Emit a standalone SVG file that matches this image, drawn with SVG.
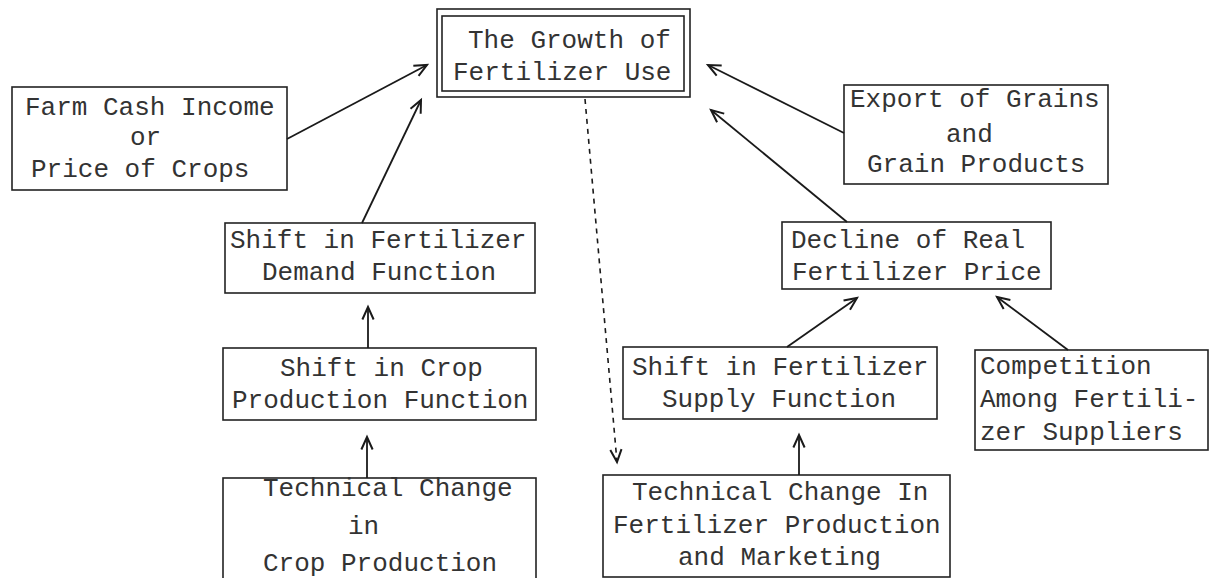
<svg xmlns="http://www.w3.org/2000/svg" width="1211" height="578" viewBox="0 0 1211 578">
<style>
.bx{fill:none;stroke:#222;stroke-width:1.6}
.t{font-family:"Liberation Mono","DejaVu Sans Mono",monospace;font-size:26px;fill:#333}
.c{fill:none;stroke:#1a1a1a;stroke-width:1.8}
.d{fill:none;stroke:#1a1a1a;stroke-width:1.6;stroke-dasharray:5,5}
</style>
<defs>
<marker id="ah" markerUnits="userSpaceOnUse" markerWidth="20" markerHeight="20" viewBox="-12 -8 14 16" refX="0" refY="0" orient="auto">
<path d="M-10,-4.5 L0,0 L-10,4.5" fill="none" stroke="#1a1a1a" stroke-width="1.6"/>
</marker>
</defs>
<rect width="1211" height="578" fill="#fff"/>
<g id="growth">
<rect class="bx" x="437" y="9" width="253" height="88"/>
<rect class="bx" x="442" y="16" width="242" height="75"/>
<text class="t" x="468" y="48">The Growth of</text>
<text class="t" x="453" y="80">Fertilizer Use</text>
</g>
<g id="farm">
<rect class="bx" x="12" y="87" width="275" height="103"/>
<text class="t" x="25" y="115">Farm Cash Income</text>
<text class="t" x="130" y="145">or</text>
<text class="t" x="31" y="177">Price of Crops</text>
</g>
<g id="export">
<rect class="bx" x="844" y="85" width="264" height="99"/>
<text class="t" x="850" y="107">Export of Grains</text>
<text class="t" x="946" y="142">and</text>
<text class="t" x="867" y="172">Grain Products</text>
</g>
<g id="demand">
<rect class="bx" x="225" y="223" width="310" height="70"/>
<text class="t" x="230" y="248">Shift in Fertilizer</text>
<text class="t" x="262" y="280">Demand Function</text>
</g>
<g id="decline">
<rect class="bx" x="782" y="222" width="269" height="67"/>
<text class="t" x="791" y="248">Decline of Real</text>
<text class="t" x="792" y="280">Fertilizer Price</text>
</g>
<g id="crop">
<rect class="bx" x="223" y="348" width="313" height="72"/>
<text class="t" x="280" y="376">Shift in Crop</text>
<text class="t" x="232" y="408">Production Function</text>
</g>
<g id="supply">
<rect class="bx" x="623" y="347" width="314" height="72"/>
<text class="t" x="632" y="375">Shift in Fertilizer</text>
<text class="t" x="662" y="407">Supply Function</text>
</g>
<g id="competition">
<rect class="bx" x="975" y="350" width="233" height="100"/>
<text class="t" x="980" y="374">Competition</text>
<text class="t" x="980" y="407">Among Fertili-</text>
<text class="t" x="980" y="440">zer Suppliers</text>
</g>
<g id="techcrop">
<rect class="bx" x="223" y="478" width="313" height="130"/>
<text class="t" x="263" y="496">Technical Change</text>
<text class="t" x="348" y="534">in</text>
<text class="t" x="263" y="571">Crop Production</text>
</g>
<g id="techfert">
<rect class="bx" x="603" y="475" width="347" height="102"/>
<text class="t" x="632" y="500">Technical Change In</text>
<text class="t" x="613" y="533">Fertilizer Production</text>
<text class="t" x="678" y="565">and Marketing</text>
</g>
<g id="connectors">
<line class="c" x1="287" y1="139" x2="427" y2="65" marker-end="url(#ah)"/>
<line class="c" x1="362" y1="223" x2="421" y2="100" marker-end="url(#ah)"/>
<line class="c" x1="844" y1="133" x2="708" y2="65" marker-end="url(#ah)"/>
<line class="c" x1="847" y1="222" x2="711" y2="110" marker-end="url(#ah)"/>
<line class="c" x1="368" y1="348" x2="368" y2="307" marker-end="url(#ah)"/>
<line class="c" x1="367" y1="478" x2="367" y2="437" marker-end="url(#ah)"/>
<line class="c" x1="787" y1="347" x2="857" y2="298" marker-end="url(#ah)"/>
<line class="c" x1="1068" y1="350" x2="997" y2="297" marker-end="url(#ah)"/>
<line class="c" x1="799" y1="475" x2="799" y2="435" marker-end="url(#ah)"/>
<line class="d" x1="585" y1="99" x2="617" y2="462" marker-end="url(#ah)"/>
</g>
</svg>
